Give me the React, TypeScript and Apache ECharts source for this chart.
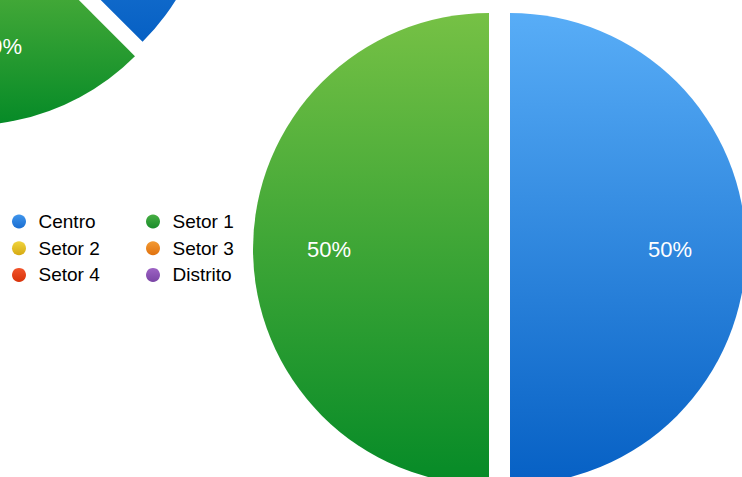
import React, { useEffect, useRef } from 'react';
import * as echarts from 'echarts';

// Categories (legend order follows the data order)
const categories = ['Centro', 'Setor 1', 'Setor 2', 'Setor 3', 'Setor 4', 'Distrito'];

// Main (large) pie: Centro vs Setor 1
const mainNames = ['Centro', 'Setor 1'];
const mainValues = [50, 50];

// Partially visible pie at the top-left (only Centro and Setor 1 are on screen)
const sideNames = ['Centro', 'Setor 1', 'Setor 2', 'Setor 3', 'Setor 4', 'Distrito'];
const sideValues = [37.5, 18.6, 12, 11, 11, 9.9];

// Legend columns
const legendLeftColumn = ['Centro', 'Setor 2', 'Setor 4'];
const legendRightColumn = ['Setor 1', 'Setor 3', 'Distrito'];

// Slice gradient colours (top -> bottom)
const sliceTop: Record<string, string> = {
  'Centro': '#58adf7',
  'Setor 1': '#76c145',
  'Setor 2': '#f4d84a',
  'Setor 3': '#f5a040',
  'Setor 4': '#f45a30',
  'Distrito': '#a66ccc',
};
const sliceBottom: Record<string, string> = {
  'Centro': '#0660c4',
  'Setor 1': '#058a27',
  'Setor 2': '#d0a40c',
  'Setor 3': '#dc6c0a',
  'Setor 4': '#d42e06',
  'Distrito': '#7440a0',
};
// Legend icon gradient colours
const iconTop: Record<string, string> = {
  'Centro': '#3f95ec',
  'Setor 1': '#47ae43',
  'Setor 2': '#f0d43c',
  'Setor 3': '#f39a33',
  'Setor 4': '#f2542b',
  'Distrito': '#9d63c4',
};
const iconBottom: Record<string, string> = {
  'Centro': '#1b6ed1',
  'Setor 1': '#198c2b',
  'Setor 2': '#d6aa14',
  'Setor 3': '#e0720f',
  'Setor 4': '#d8330a',
  'Distrito': '#7a45a5',
};

const FONT = '"Liberation Sans", Arial, Helvetica, sans-serif';

function grad(top: string, bottom: string) {
  return new echarts.graphic.LinearGradient(0, 0, 0, 1, [
    { offset: 0, color: top },
    { offset: 1, color: bottom },
  ]);
}

function pieSeries(names: string[], values: number[], center: [number, number], r: number) {
  const common = {
    type: 'pie',
    center,
    startAngle: 90,
    clockwise: true,
    selectedMode: 'multiple',
    selectedOffset: 10.5,
    avoidLabelOverlap: false,
    silent: true,
    labelLine: { show: false },
    emphasis: { disabled: true },
  };
  const fill = {
    ...common,
    radius: [0, r],
    label: { show: false },
    data: values.map((v, i) => ({
      name: names[i],
      value: v,
      selected: true,
      itemStyle: { color: grad(sliceTop[names[i]], sliceBottom[names[i]]) },
    })),
  };
  const labels = {
    ...common,
    radius: [r * 0.33, r],
    itemStyle: { color: 'rgba(0,0,0,0)' },
    label: {
      show: true,
      position: 'inside',
      color: '#ffffff',
      fontSize: 22,
      fontFamily: FONT,
      formatter: (p: any) => `${Math.round(p.percent)}%`,
    },
    data: values.map((v, i) => ({ name: names[i], value: v, selected: true })),
  };
  return [fill, labels];
}

function legendCol(names: string[], left: number) {
  return {
    orient: 'vertical',
    left,
    top: 207,
    icon: 'circle',
    itemWidth: 29,
    itemHeight: 14,
    itemGap: 7.7,
    selectedMode: false,
    textStyle: { fontSize: 19, color: '#000000', fontFamily: FONT },
    data: names.map((n) => ({ name: n, itemStyle: { color: grad(iconTop[n], iconBottom[n]) } })),
  };
}

export default function App() {
  const ref = useRef<HTMLDivElement>(null);
  useEffect(() => {
    document.body.style.margin = '0';
    if (!ref.current) return;
    const chart = echarts.init(ref.current, undefined, { renderer: 'svg' });
    chart.setOption({
      animation: false,
      backgroundColor: '#ffffff',
      legend: [legendCol(legendLeftColumn, 7), legendCol(legendRightColumn, 141)],
      series: [
        ...pieSeries(sideNames, sideValues, [-34, -121], 236),
        ...pieSeries(mainNames, mainValues, [499.5, 249], 236),
      ],
    });
    return () => chart.dispose();
  }, []);
  return <div ref={ref} style={{ width: 742, height: 477 }} />;
}
